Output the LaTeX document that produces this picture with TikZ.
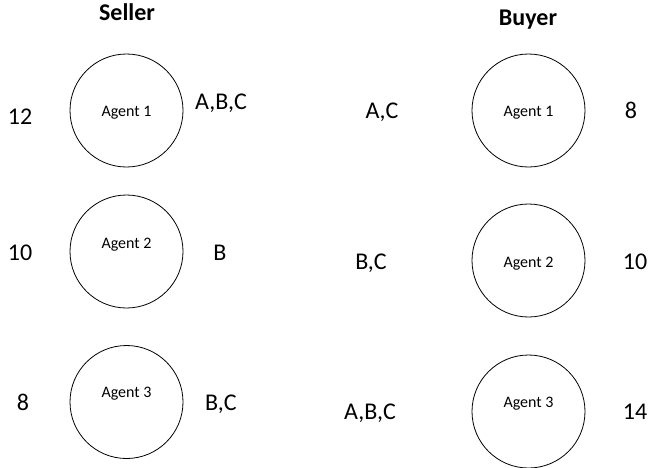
\documentclass[tikz,border=0pt]{standalone}
\usepackage{fontspec}
\setmainfont{Carlito}
\tikzstyle{agent}=[circle,draw=black,line width=0.8pt,inner sep=0pt,minimum size=113pt]
\tikzstyle{txt}=[inner sep=0pt,text height=15.5pt,text depth=0pt,font=\fontsize{24}{28}\selectfont]
\tikzstyle{ttl}=[inner sep=0pt,text height=15.5pt,text depth=0pt,font=\fontsize{24}{28}\selectfont\bfseries]
\tikzstyle{nm}=[inner sep=0pt,text height=10.3pt,text depth=0pt,font=\fontsize{16}{19}\selectfont]
\begin{document}
\begin{tikzpicture}[x=1pt,y=-1pt]
    \fill [white] (0,0) rectangle (652,467);
    \useasboundingbox (0,0) rectangle (652,467);
    % seller side
    \node [style=ttl] (seller) at (127,13) {Seller};
    \node [style=agent] (s1) at (126.5,110.5) {};
    \node [style=agent] (s2) at (126.5,251.5) {};
    \node [style=agent] (s3) at (126.5,402) {};
    \node [style=nm] (s1name) at (126.5,111) {Agent 1};
    \node [style=nm] (s2name) at (126.5,243) {Agent 2};
    \node [style=nm] (s3name) at (126.5,392) {Agent 3};
    \node [style=txt] (s1price) at (20,117) {12};
    \node [style=txt] (s2price) at (20,253) {10};
    \node [style=txt] (s3price) at (23,403) {8};
    \node [style=txt] (s1goods) at (221,102) {A,B,C};
    \node [style=txt] (s2goods) at (220,253) {B};
    \node [style=txt] (s3goods) at (221,403) {B,C};
    % buyer side
    \node [style=ttl] (buyer) at (528,18) {Buyer};
    \node [style=agent] (b1) at (528.5,110.5) {};
    \node [style=agent] (b2) at (528.5,260.5) {};
    \node [style=agent] (b3) at (528.5,411.5) {};
    \node [style=nm] (b1name) at (528.5,111) {Agent 1};
    \node [style=nm] (b2name) at (528.5,262) {Agent 2};
    \node [style=nm] (b3name) at (528.5,402) {Agent 3};
    \node [style=txt] (b1goods) at (382,111) {A,C};
    \node [style=txt] (b2goods) at (371,262) {B,C};
    \node [style=txt] (b3goods) at (370,412) {A,B,C};
    \node [style=txt] (b1price) at (631,111) {8};
    \node [style=txt] (b2price) at (635,262) {10};
    \node [style=txt] (b3price) at (635,412) {14};
\end{tikzpicture}
\end{document}
